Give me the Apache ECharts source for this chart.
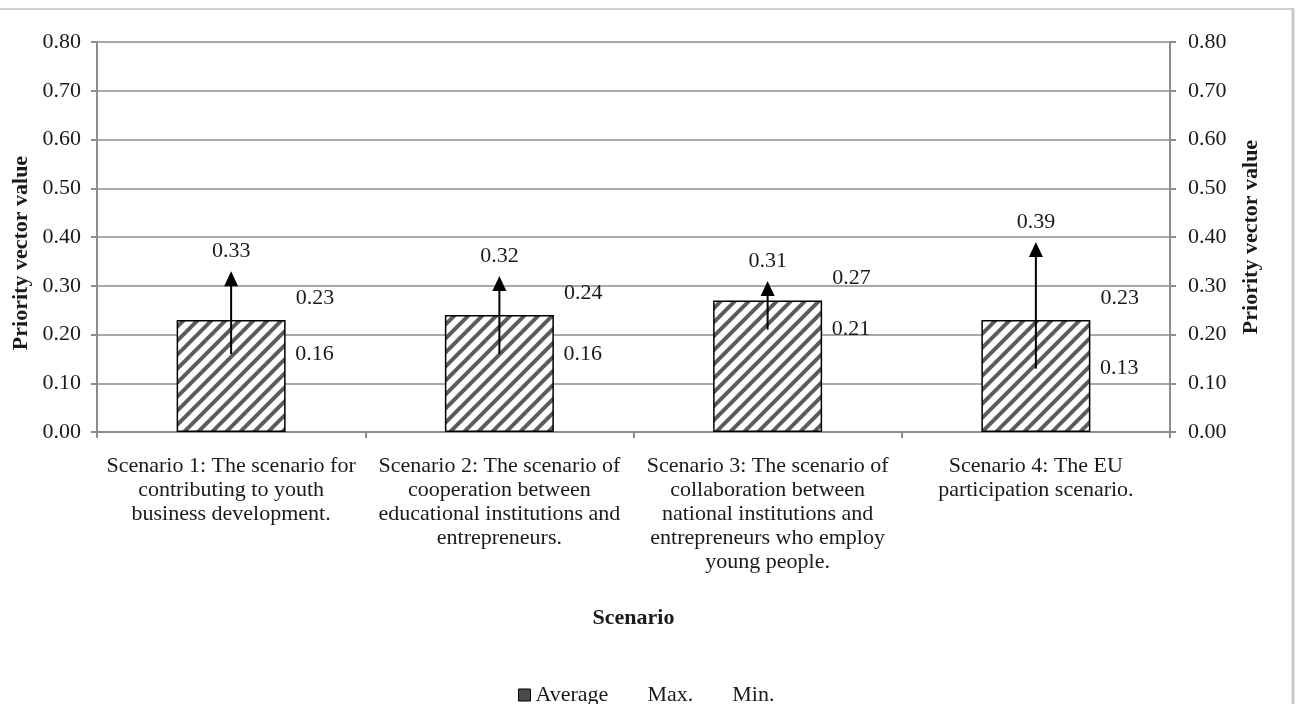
<!DOCTYPE html>
<html>
<head>
<meta charset="utf-8">
<script src="https://cdn.jsdelivr.net/npm/echarts@6/dist/echarts.min.js"></script>
<style>
html,body{margin:0;padding:0;background:#fff;}
#chart{width:1297px;height:704px;}
</style>
</head>
<body>
<div id="chart"></div>
<script>
var categories = [
  'Scenario 1: The scenario for\ncontributing to youth\nbusiness development.',
  'Scenario 2: The scenario of\ncooperation between\neducational institutions and\nentrepreneurs.',
  'Scenario 3: The scenario of\ncollaboration between\nnational institutions and\nentrepreneurs who employ\nyoung people.',
  'Scenario 4: The EU\nparticipation scenario.'
];
var averageValues = [0.23, 0.24, 0.27, 0.23];
var maxValues = [0.33, 0.32, 0.31, 0.39];
var minValues = [0.16, 0.16, 0.21, 0.13];
var yTicks = [0, 0.1, 0.2, 0.3, 0.4, 0.5, 0.6, 0.7, 0.8];

var FONT = '"Liberation Serif", "Times New Roman", serif';

// hatch pattern
var tile = document.createElement('canvas');
tile.width = 14; tile.height = 14;
var c = tile.getContext('2d');
c.fillStyle = '#ffffff';
c.fillRect(0, 0, 14, 14);
c.strokeStyle = '#5c5c5c';
c.lineWidth = 4;
c.beginPath();
c.moveTo(-2, 16); c.lineTo(16, -2);
c.moveTo(-9, 9); c.lineTo(9, -9);
c.moveTo(5, 23); c.lineTo(23, 5);
c.stroke();

var arrowData = maxValues.map(function (v, i) { return [i, v, minValues[i]]; });
var minData = minValues.map(function (v, i) { return [i, v]; });

var chart = echarts.init(document.getElementById('chart'), null, {renderer: 'canvas'});

var yAxisCommon = {
  type: 'value',
  min: yTicks[0], max: yTicks[yTicks.length - 1], interval: 0.1,
  axisLine: {show: true, lineStyle: {color: '#8c8c8c', width: 2}},
  axisTick: {show: true, inside: false, length: 6, lineStyle: {color: '#8c8c8c', width: 2}},
  axisLabel: {
    fontFamily: FONT, fontSize: 22, color: '#1a1a1a',
    formatter: function (v) { return v.toFixed(2); }
  }
};

chart.setOption({
  backgroundColor: '#ffffff',
  animation: false,
  grid: {left: 97, right: 127, top: 42, bottom: 272, containLabel: false},
  legend: {
    left: 513, top: 679,
    itemWidth: 12, itemHeight: 12, itemGap: 22,
    textStyle: {fontFamily: FONT, fontSize: 22, color: '#1a1a1a'},
    data: [
      {name: 'Average', icon: 'rect', itemStyle: {color: '#4a4a4a', borderColor: '#000', borderWidth: 1}},
      {name: 'Max.', icon: 'rect', itemStyle: {color: 'rgba(0,0,0,0)', borderWidth: 0, opacity: 0}},
      {name: 'Min.', icon: 'rect', itemStyle: {color: 'rgba(0,0,0,0)', borderWidth: 0, opacity: 0}}
    ]
  },
  xAxis: {
    type: 'category',
    data: categories,
    name: 'Scenario',
    nameLocation: 'middle',
    nameGap: 175,
    nameTextStyle: {fontFamily: FONT, fontSize: 22, fontWeight: 'bold', color: '#1a1a1a', verticalAlign: 'top'},
    axisLine: {lineStyle: {color: '#8c8c8c', width: 2}},
    axisTick: {show: true, alignWithLabel: false, length: 6, lineStyle: {color: '#8c8c8c', width: 2}},
    axisLabel: {
      interval: 0, margin: 22,
      fontFamily: FONT, fontSize: 22, lineHeight: 24, color: '#1a1a1a', align: 'center'
    },
    splitLine: {show: false}
  },
  yAxis: [
    Object.assign({}, yAxisCommon, {
      position: 'left',
      axisLabel: Object.assign({}, yAxisCommon.axisLabel, {margin: 16}),
      splitLine: {show: true, lineStyle: {color: '#a8a8a8', width: 2}}
    }),
    Object.assign({}, yAxisCommon, {
      position: 'right',
      axisLabel: Object.assign({}, yAxisCommon.axisLabel, {margin: 18}),
      splitLine: {show: false}
    })
  ],
  graphic: [
    {type: 'line', shape: {x1: 0, y1: 9, x2: 1293, y2: 9}, style: {stroke: '#d0d0d0', lineWidth: 2}},
    {type: 'line', shape: {x1: 1293, y1: 8, x2: 1293, y2: 704}, style: {stroke: '#c8c8c8', lineWidth: 3}},
    {type: 'text', rotation: Math.PI / 2,
      x: 21, y: 253,
      style: {text: 'Priority vector value', font: 'bold 22px ' + FONT, fill: '#1a1a1a', textAlign: 'center', textVerticalAlign: 'middle'}},
    {type: 'text', rotation: Math.PI / 2,
      x: 1251, y: 237,
      style: {text: 'Priority vector value', font: 'bold 22px ' + FONT, fill: '#1a1a1a', textAlign: 'center', textVerticalAlign: 'middle'}}
  ],
  series: [
    {
      name: 'Average',
      type: 'bar',
      data: averageValues,
      barWidth: 109,
      itemStyle: {color: {image: tile, repeat: 'repeat'}, borderColor: '#000', borderWidth: 1.5},
      label: {
        show: true,
        position: ['100%', 0],
        offset: [10, -22],
        align: 'left', verticalAlign: 'middle',
        fontFamily: FONT, fontSize: 22, color: '#1a1a1a',
        formatter: function (p) { return p.value.toFixed(2); }
      },
      z: 2
    },
    {
      name: 'Max.',
      type: 'custom',
      data: arrowData,
      itemStyle: {color: 'rgba(0,0,0,0)'},
      z: 5,
      renderItem: function (params, api) {
        var top = api.coord([api.value(0), api.value(1)]);
        var bot = api.coord([api.value(0), api.value(2)]);
        var x = top[0];
        var headH = 15, headW = 14;
        return {
          type: 'group',
          children: [
            {type: 'line', shape: {x1: x, y1: bot[1], x2: x, y2: top[1] + headH - 1},
              style: {stroke: '#000', lineWidth: 2}},
            {type: 'polygon', shape: {points: [[x, top[1]], [x - headW / 2, top[1] + headH], [x + headW / 2, top[1] + headH]]},
              style: {fill: '#000'}},
            {type: 'text', x: x, y: top[1] - 20,
              style: {text: api.value(1).toFixed(2), font: '22px ' + FONT, fill: '#1a1a1a', align: 'center', verticalAlign: 'middle'}}
          ]
        };
      }
    },
    {
      name: 'Min.',
      type: 'custom',
      data: minData,
      itemStyle: {color: 'rgba(0,0,0,0)'},
      z: 5,
      renderItem: function (params, api) {
        var p = api.coord([api.value(0), api.value(1)]);
        return {
          type: 'text', x: p[0] + 64, y: p[1],
          style: {text: api.value(1).toFixed(2), font: '22px ' + FONT, fill: '#1a1a1a', align: 'left', verticalAlign: 'middle'}
        };
      }
    }
  ]
});
</script>
</body>
</html>
